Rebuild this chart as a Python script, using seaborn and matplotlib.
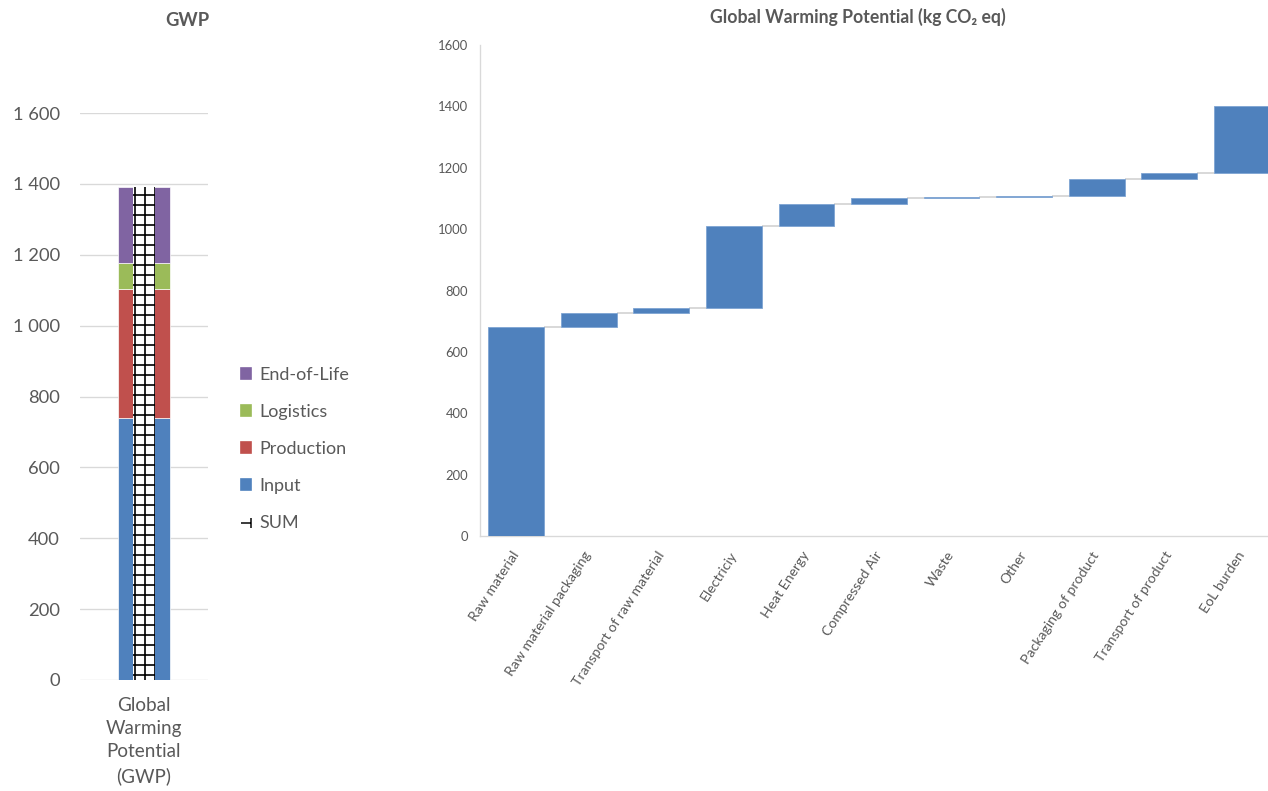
import numpy as np
import pandas as pd
import matplotlib
matplotlib.use("Agg")
import matplotlib.pyplot as plt
import seaborn as sns
from matplotlib.patches import Patch
from matplotlib.lines import Line2D
from matplotlib.path import Path
from matplotlib.ticker import FuncFormatter

# Life-cycle stage totals (kg CO2 eq)
stages = ["Input", "Production", "Logistics", "End-of-Life"]
stage_values = [740, 363, 74, 214]
stage_colors = ["#4F81BD", "#C0504D", "#9BBB59", "#8064A2"]
sum_label = "SUM"
summary_category = "Global\nWarming\nPotential\n(GWP)"

# Contribution of each process step (kg CO2 eq)
steps = ["Raw material", "Raw material packaging", "Transport of raw material",
         "Electriciy", "Heat Energy", "Compressed Air", "Waste", "Other",
         "Packaging of product", "Transport of product", "EoL burden"]
step_values = [681, 46, 16, 267, 71, 19, 5, 2, 55, 20, 218]

left_ticks = [0, 200, 400, 600, 800, 1000, 1200, 1400, 1600]
right_ticks = [0, 200, 400, 600, 800, 1000, 1200, 1400, 1600]

TEXT = "#595959"
GRID = "#d9d9d9"
BLUE = "#4F81BD"

sns.set_theme(style="white")
plt.rcParams["font.family"] = ["Lato", "DejaVu Sans"]
plt.rcParams["hatch.linewidth"] = 1.0

W, H, DPI = 1268, 791, 120
fig = plt.figure(figsize=(W / DPI, H / DPI), dpi=DPI)
axL = fig.add_axes([80 / W, 111 / H, 128 / W, 567 / H])
axR = fig.add_axes([480 / W, 255 / H, 798 / W, 491 / H])

# ---- stacked column with SUM overlay ----
dfL = pd.DataFrame({"cat": [summary_category] * len(stages),
                    "stage": stages, "value": stage_values})
dfL["base"] = dfL["value"].cumsum() - dfL["value"]
for stage, color in zip(stages, stage_colors):
    part = dfL[dfL["stage"] == stage]
    sns.barplot(data=part, x="cat", y="value", bottom=part["base"].to_numpy(),
                color=color, saturation=1, width=0.40, errorbar=None,
                edgecolor="white", linewidth=0.4, ax=axL)

dfS = pd.DataFrame({"cat": [summary_category], "value": [sum(stage_values)]})
sns.barplot(data=dfS, x="cat", y="value", color="white", saturation=1,
            width=0.165, errorbar=None, hatch="++", edgecolor="black",
            linewidth=0, ax=axL)

axL.set_xlim(-0.5, 0.5)
axL.set_ylim(0, 1600)
axL.set_yticks(left_ticks)
axL.yaxis.set_major_formatter(FuncFormatter(lambda v, p: f"{v:,.0f}".replace(",", " ")))
axL.set_axisbelow(True)
axL.grid(axis="y", color=GRID, linewidth=0.8)
axL.grid(axis="x", visible=False)
for s in axL.spines.values():
    s.set_visible(False)
axL.tick_params(axis="y", length=0, pad=12, labelsize=11, labelcolor=TEXT)
axL.tick_params(axis="x", length=0, pad=10, labelsize=11.3, labelcolor=TEXT)
for lab in axL.get_xticklabels():
    lab.set_linespacing(1.45)
axL.set_xlabel("")
axL.set_ylabel("")

# ---- waterfall ----
dfR = pd.DataFrame({"step": steps, "value": step_values})
dfR["top"] = dfR["value"].cumsum()
dfR["base"] = dfR["top"] - dfR["value"]
bw = 0.77
sns.barplot(data=dfR, x="step", y="value", bottom=dfR["base"].to_numpy(),
            color=BLUE, saturation=1, width=bw, errorbar=None,
            edgecolor="#7ea4d3", linewidth=0.5, ax=axR, zorder=3)
n = len(steps)
idx = np.arange(n - 1)
axR.hlines(dfR["top"].to_numpy()[:-1], idx + bw / 2, idx + 1 - bw / 2,
           color=GRID, linewidth=1.2, zorder=2)

axR.set_xlim(-0.5, n - 0.5)
axR.set_ylim(0, 1600)
axR.set_yticks(right_ticks)
axR.set_xticks(range(n))
axR.set_xticklabels(steps, rotation=57, ha="right", va="center",
                    rotation_mode="anchor")
axR.grid(False)
for side in ["top", "right"]:
    axR.spines[side].set_visible(False)
for side in ["left", "bottom"]:
    axR.spines[side].set_color(GRID)
    axR.spines[side].set_linewidth(0.8)
axR.tick_params(axis="y", length=0, pad=7, labelsize=7.8, labelcolor=TEXT)
axR.tick_params(axis="x", length=0, pad=10, labelsize=8.4, labelcolor=TEXT)
axR.set_xlabel("")
axR.set_ylabel("")

# ---- titles ----
fig.text(187 / W, 1 - 20 / H, "GWP", ha="center", va="center",
         fontsize=11, fontweight="bold", color=TEXT)
fig.text(858 / W, 1 - 17 / H, "Global Warming Potential (kg CO₂ eq)",
         ha="center", va="center", fontsize=10.6, fontweight="bold", color=TEXT)

# ---- legend ----
sum_marker = Path([(-1, 0), (1, 0), (1, -1), (1, 1)],
                  [Path.MOVETO, Path.LINETO, Path.MOVETO, Path.LINETO])
handles = [Patch(facecolor=c, edgecolor=c) for c in stage_colors[::-1]]
handles.append(Line2D([], [], linestyle="none", marker=sum_marker, markersize=6,
                      markeredgecolor="black", markerfacecolor="none",
                      markeredgewidth=0.9))
labels = stages[::-1] + [sum_label]
fig.legend(handles, labels, loc="center left",
           bbox_to_anchor=(241 / W, 1 - 449 / H), frameon=False, fontsize=10.8,
           handlelength=0.55, handleheight=0.55, handletextpad=0.45,
           labelspacing=1.18, borderpad=0, borderaxespad=0, labelcolor=TEXT)

fig.savefig("out.png", dpi=DPI)
